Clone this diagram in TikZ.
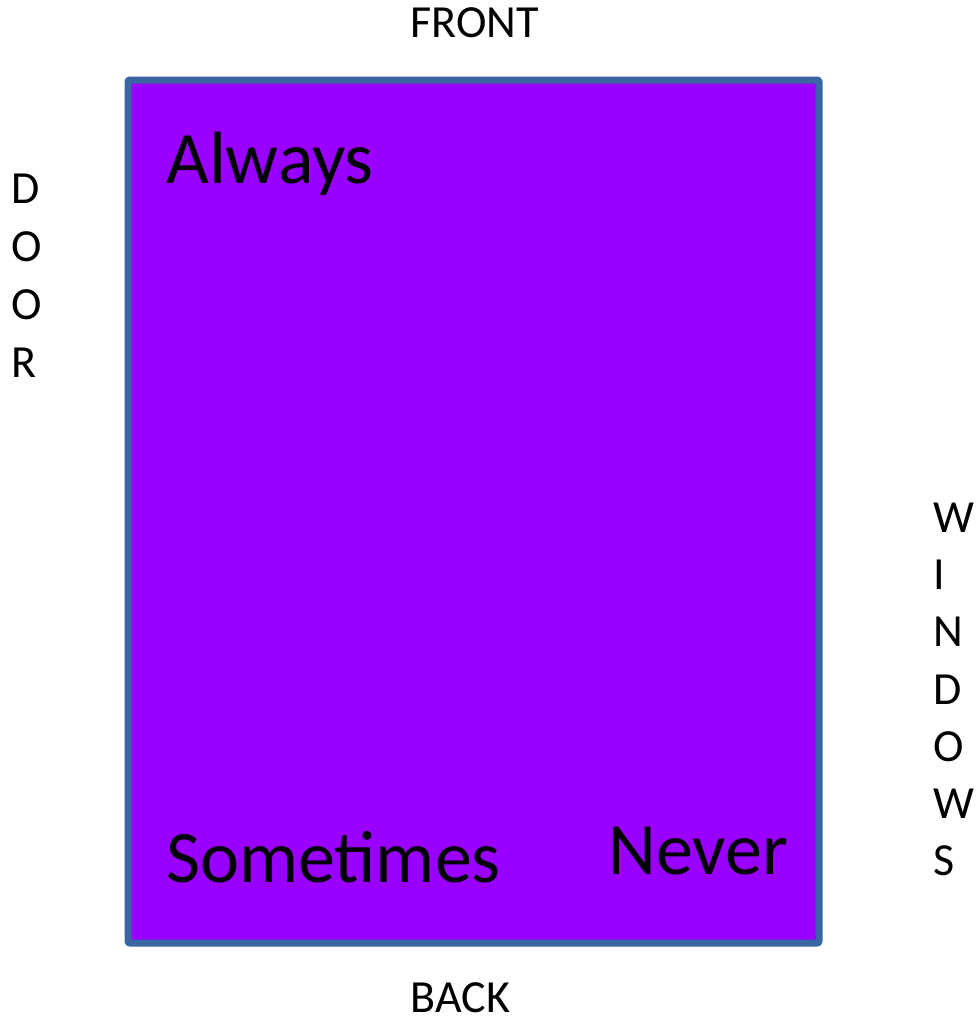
\documentclass[tikz,border=0pt]{standalone}
\usepackage{fontspec}
\setmainfont{Carlito}
\definecolor{roomfill}{HTML}{9900FF}
\definecolor{roomedge}{HTML}{3A67A3}

\begin{document}
\begin{tikzpicture}[
  x=1pt, y=-1pt,
  side/.style={font=\fontsize{46}{55}\selectfont, inner sep=0pt, text=black},
  seat/.style={font=\fontsize{74}{89}\selectfont, inner sep=0pt, anchor=base west, text=black},
]
\useasboundingbox (0,0) rectangle (978,1018);

% Room
\node[draw=roomedge, fill=roomfill, line width=7pt, rounded corners=2pt,
      minimum width=691pt, minimum height=863pt, inner sep=0pt]
  (room) at (473.5,511.5) {};

% Seating zones
\node[seat] (always) at (166,183) {Always};
\node[seat] (sometimes) at (166,882) {Sometimes};
\node[seat] (never) at (608,874) {Never};

% Walls
\node[side, anchor=base] (front) at (474.5,37) {FRONT};
\node[side, anchor=base] (back) at (460.5,1012) {BACK};

\foreach \ch [count=\i] in {D,O,O,R}
  \node[side, anchor=base west] (door-\i) at (11,203.5+58*\i-58) {\ch};

\foreach \ch [count=\i] in {W,I,N,D,O,W,S}
  \node[side, anchor=base west] (win-\i) at (933,532.5+57.2*\i-57.2) {\ch};

\end{tikzpicture}
\end{document}
